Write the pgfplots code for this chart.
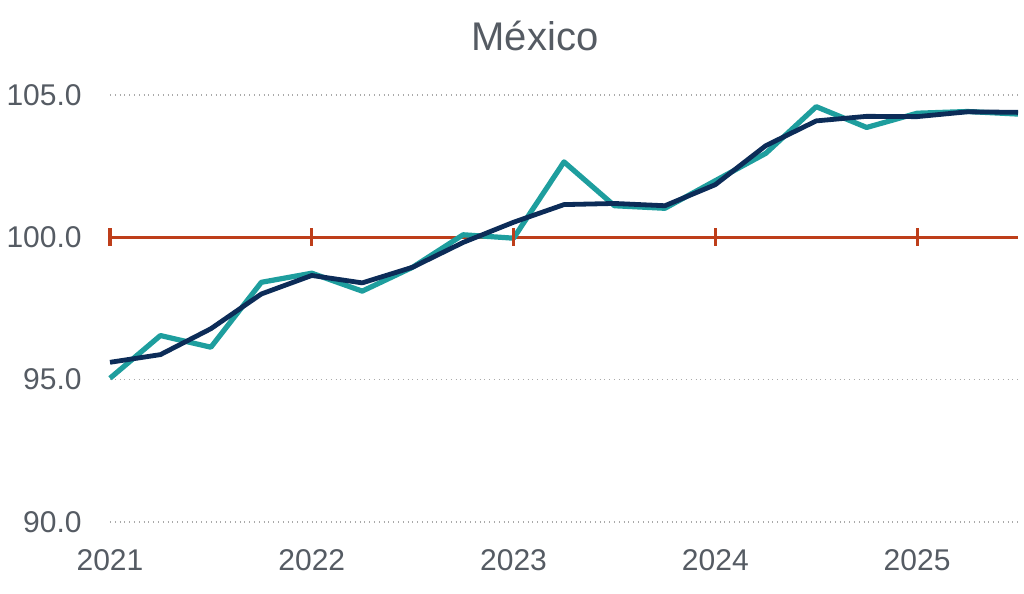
\documentclass[border=0pt]{standalone}
\usepackage{pgfplots}
\pgfplotsset{compat=1.18}
\usepackage{fontspec}
\setmainfont{Liberation Sans}

\definecolor{txtgray}{RGB}{85,91,99}
\definecolor{gridgray}{RGB}{170,170,170}
\definecolor{teal1}{RGB}{30,158,158}
\definecolor{navy1}{RGB}{12,44,88}
\definecolor{rust}{RGB}{190,62,26}

\begin{document}
\begin{tikzpicture}
\path[use as bounding box] (-55pt,-36pt) rectangle (457pt,261pt);
\begin{axis}[
    at={(0,0)}, anchor=south west,
    scale only axis,
    width=454pt, height=213.5pt,
    xmin=0, xmax=18,
    ymin=90, ymax=105,
    clip=false,
    axis line style={draw=none},
    major tick length=0pt,
    xtick={0,4,8,12,16},
    xticklabels={2021,2022,2023,2024,2025},
    ytick={90,95,100,105},
    yticklabel={\pgfmathprintnumber[fixed,fixed zerofill,precision=1]{\tick}},
    /pgf/number format/assume math mode=true,
    ymajorgrids,
    grid style={gridgray, dotted, line width=0.6pt},
    tick label style={font=\fontsize{15}{18}\selectfont, text=txtgray, inner sep=0pt},
    xticklabel style={anchor=north, yshift=-13.5pt},
    yticklabel style={anchor=east, xshift=-14pt},
    title={México},
    title style={font=\fontsize{20}{24}\selectfont, text=txtgray, inner sep=0pt,
        anchor=base, at={(axis description cs:0.468,1)}, yshift=16pt},
]
% reference line at 100 with year ticks
\addplot[rust, line width=1.6pt] coordinates {(0,100) (18,100)};
\addplot[rust, line width=1.6pt, only marks, mark=|, mark size=4.5pt,
    mark options={line width=1.6pt}] coordinates {(0,100) (4,100) (8,100) (12,100) (16,100)};
% teal series
\addplot[teal1, line width=2.6pt, line join=round] coordinates {
(0,95.05) (1,96.55) (2,96.14) (3,98.42) (4,98.74) (5,98.11) (6,98.95) (7,100.09) (8,99.97)
(9,102.65) (10,101.11) (11,101.02) (12,101.99) (13,102.95) (14,104.59) (15,103.86) (16,104.36)
(17,104.42) (18,104.33)};
% navy series
\addplot[navy1, line width=2.4pt, line join=round] coordinates {
(0,95.61) (1,95.88) (2,96.79) (3,98.01) (4,98.66) (5,98.40) (6,98.95) (7,99.82) (8,100.53)
(9,101.15) (10,101.19) (11,101.11) (12,101.85) (13,103.22) (14,104.09) (15,104.25) (16,104.24)
(17,104.41) (18,104.39)};
\end{axis}
\end{tikzpicture}
\end{document}
